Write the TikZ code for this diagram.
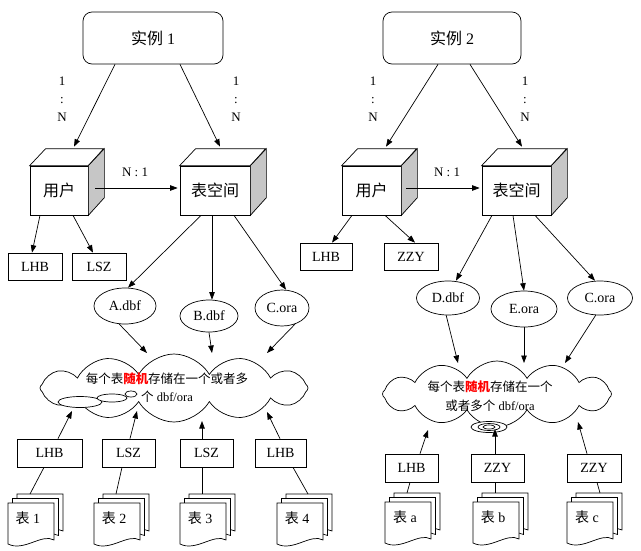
\documentclass[tikz,border=0pt]{standalone}
\usepackage{fontspec}
\setmainfont{Liberation Serif}
\newfontfamily\cjk{Noto Sans CJK SC}
\usetikzlibrary{arrows.meta,shapes.geometric,shapes.symbols,calc}

\newcommand\mkcube[4]{%
  \node[face,minimum width=#3] (#1) at #2 {#4};
  \draw[fill=white] (#1.north west) -- ++(16,-17) -- ++(#3,0) -- (#1.north east) -- cycle;
  \draw[fill=gray!45] (#1.north east) -- ++(16,-17) -- ++(0,49) -- (#1.south east) -- cycle;
}
\newcommand\docstack[4]{%
  \foreach \o in {9,4.5,0} {
    \begin{scope}[shift={(#2+\o,#3-\o)}]
      \draw[fill=white] (0,0) -- (46,0) -- (46,37) .. controls (34,30) and (16,49) .. (0,41) -- cycle;
    \end{scope}
  }
  \node[doctext] (#1) at (#2+20,#3+15) {#4};
  \coordinate (#1t) at (#2+22,#3-9);
}

\begin{document}
\begin{tikzpicture}[x=1pt,y=-1pt, line width=0.7pt,
  arr/.style={-{Triangle[length=7.5pt,width=5.5pt]}},
  inst/.style={draw,rounded corners=9pt,minimum width=140pt,minimum height=52pt,font=\fontsize{16}{18}\selectfont},
  face/.style={draw,fill=white,minimum height=49pt,inner sep=0pt,font=\cjk\fontsize{16}{18}\selectfont},
  lbl/.style={draw,fill=white,minimum height=28pt,inner sep=0pt,font=\fontsize{14}{16}\selectfont},
  fil/.style={draw,ellipse,inner sep=0pt,fill=white,font=\fontsize{14}{16}\selectfont},
  ratio/.style={font=\fontsize{13}{18}\selectfont,align=center,inner sep=0pt},
  cld/.style={draw,cloud,cloud puffs=12,cloud puff arc=120,aspect=4,inner sep=0pt,fill=white},
  ctext/.style={font=\fontsize{12.5}{18}\selectfont,align=center,inner sep=0pt},
  doctext/.style={font=\fontsize{14}{16}\selectfont,inner sep=0pt},
]
\useasboundingbox (0,0) rectangle (641,550);

% instances
\node[inst] (i1) at (153,38) {{\cjk 实例} 1};
\node[inst,minimum width=138pt] (i2) at (452,38) {{\cjk 实例} 2};

% ratio labels
\node[ratio] (n1) at (62,99) {1\\:\\N};
\node[ratio] (n2) at (236,99) {1\\:\\N};
\node[ratio] (n3) at (373,99) {1\\:\\N};
\node[ratio] (n4) at (525,99) {1\\:\\N};

% cubes
\mkcube{u1}{(59,190.5)}{58pt}{用户}
\mkcube{t1}{(215,190.5)}{70pt}{表空间}
\mkcube{u2}{(371.5,190.5)}{59pt}{用户}
\mkcube{t2}{(516.5,190.5)}{69pt}{表空间}

\draw[arr] ($(i1.south)+(-38,0)$) -- ($(u1.north)+(15,-19)$);
\draw[arr] ($(i1.south)+(27,0)$) -- ($(t1.north)+(5,-19)$);
\draw[arr] ($(i2.south)+(-14,0)$) -- ($(u2.north)+(14.5,-19)$);
\draw[arr] ($(i2.south)+(18,0)$) -- ($(t2.north)+(5.5,-19)$);

\draw[arr] ($(u1.east)+(7,-2.5)$) -- ($(t1.west)+(-2,-2.5)$);
\node[ratio] (m1) at (135,172) {N : 1};
\draw[arr] ($(u2.east)+(5,-2.5)$) -- ($(t2.west)+(-2,-2.5)$);
\node[ratio] (m2) at (447,172) {N : 1};

% user boxes
\node[lbl,minimum width=54pt,minimum height=27pt] (lhb1) at (35,266.5) {LHB};
\node[lbl,minimum width=54pt,minimum height=27pt] (lsz1) at (99,266.5) {LSZ};
\node[lbl,minimum width=52pt,minimum height=27pt] (lhbr) at (326,256.5) {LHB};
\node[lbl,minimum width=54pt,minimum height=27pt] (zzyr) at (411,256.5) {ZZY};
\draw[arr] ($(u1.south)+(-19,0)$) -- ($(lhb1.north)+(-3,0)$);
\draw[arr] ($(u1.south)+(14,0)$) -- ($(lsz1.north)+(-6,0)$);
\draw[arr] ($(u2.south)+(-19.5,0)$) -- ($(lhbr.north)+(6,0)$);
\draw[arr] ($(u2.south)+(13.5,0)$) -- ($(zzyr.north)+(4,0)$);

% files
\node[fil,minimum width=62pt,minimum height=36pt] (fa) at (125,306) {A.dbf};
\node[fil,minimum width=58pt,minimum height=32pt] (fb) at (209,316) {B.dbf};
\node[fil,minimum width=54pt,minimum height=36pt] (fc) at (282,308) {C.ora};
\node[fil,minimum width=63pt,minimum height=34pt] (fd) at (448,298) {D.dbf};
\node[fil,minimum width=66pt,minimum height=36pt] (fe) at (524,309) {E.ora};
\node[fil,minimum width=65pt,minimum height=34pt] (ff) at (600,298) {C.ora};

\draw[arr] ($(t1.south)+(-14,0)$) -- ($(fa.north)+(3,0)$);
\draw[arr] ($(t1.south)+(-3,0)$) -- ($(fb.north)+(3,0)$);
\draw[arr] ($(t1.south)+(19,0)$) -- ($(fc.north)+(4,0)$);
\draw[arr] ($(t2.south)+(-24.5,0)$) -- ($(fd.north)+(8,0)$);
\draw[arr] ($(t2.south)+(-3.5,0)$) -- (fe.north);
\draw[arr] ($(t2.south)+(18.5,0)$) -- ($(ff.north)+(-5,0)$);

% clouds
\node[cld,minimum width=268pt,minimum height=68pt] (cl1) at (174,388) {};
\draw[fill=white] (80,402) ellipse (22 and 5.5);
\draw[fill=white] (112,398) ellipse (15 and 4);
\draw[fill=white] (131,394) ellipse (6 and 3);
\node[ctext] (ct1) at (167,388) {{\cjk 每个表{\color{red}\bfseries 随机}存储在一个或者多}\\{\cjk 个} dbf/ora};

\node[cld,minimum width=229pt,minimum height=66pt] (cl2) at (497,394) {};
\draw[fill=white] (489,427) ellipse (18 and 5.5);
\draw (489,427) ellipse (11 and 3.5);
\draw (489,427) ellipse (6 and 2);
\node[ctext,font=\fontsize{12.5}{19}\selectfont] (ct2) at (490,396) {{\cjk 每个表{\color{red}\bfseries 随机}存储在一个}\\{\cjk 或者多个} dbf/ora};

\coordinate (ka) at (147,353);
\coordinate (kb) at (212,353);
\coordinate (kc) at (267,353);
\coordinate (kd) at (458,363);
\coordinate (ke) at (524,363);
\coordinate (kf) at (565,363);
\draw[arr] (fa.-108) -- (ka);
\draw[arr] (fb.south) -- (kb);
\draw[arr] (fc.-51) -- (kc);
\draw[arr] (fd.-96) -- (kd);
\draw[arr] (fe.south) -- (ke);
\draw[arr] (ff.-104) -- (kf);

% bottom boxes
\node[lbl,minimum width=65pt] (b1) at (49.5,453) {LHB};
\node[lbl,minimum width=53pt] (b2) at (128.5,453) {LSZ};
\node[lbl,minimum width=53pt] (b3) at (206.5,453) {LSZ};
\node[lbl,minimum width=51pt] (b4) at (280.5,453) {LHB};
\node[lbl,minimum width=53pt] (r1) at (411.5,468) {LHB};
\node[lbl,minimum width=53pt] (r2) at (497.5,468) {ZZY};
\node[lbl,minimum width=54pt] (r3) at (594,468) {ZZY};

% docs
\docstack{d1}{8}{503}{{\cjk 表} 1}
\docstack{d2}{94}{503}{{\cjk 表} 2}
\docstack{d3}{180}{503}{{\cjk 表} 3}
\docstack{d4}{277}{503}{{\cjk 表} 4}
\docstack{d5}{385}{502}{{\cjk 表} a}
\docstack{d6}{473}{502}{{\cjk 表} b}
\docstack{d7}{567}{502}{{\cjk 表} c}

\coordinate (k1) at (72,411);
\coordinate (k2) at (137,411);
\coordinate (k3) at (202,421);
\coordinate (k4) at (267,412);
\coordinate (k5) at (428,430);
\coordinate (k6) at (495,429);
\coordinate (k7) at (578,422);

\draw (d1t) -- ($(b1.south)+(-5.5,0)$);
\draw[arr] ($(b1.north)+(8.5,0)$) -- (k1);
\draw (d2t) -- ($(b2.south)+(-6.5,0)$);
\draw[arr] ($(b2.north)+(1.5,0)$) -- (k2);
\draw (d3t) -- ($(b3.south)+(-4.5,0)$);
\draw[arr] ($(b3.north)+(-4.5,0)$) -- (k3);
\draw ($(d4t)+(9,0)$) -- ($(b4.south)+(12.5,0)$);
\draw[arr] ($(b4.north)+(-0.5,0)$) -- (k4);
\draw (d5t) -- ($(r1.south)+(-1.5,0)$);
\draw[arr] ($(r1.north)+(8.5,0)$) -- (k5);
\draw (d6t) -- ($(r2.south)+(-2.5,0)$);
\draw[arr] ($(r2.north)+(-2.5,0)$) -- (k6);
\draw ($(d7t)+(11,0)$) -- ($(r3.south)+(3,0)$);
\draw[arr] ($(r3.north)+(-7,0)$) -- (k7);
\end{tikzpicture}
\end{document}
